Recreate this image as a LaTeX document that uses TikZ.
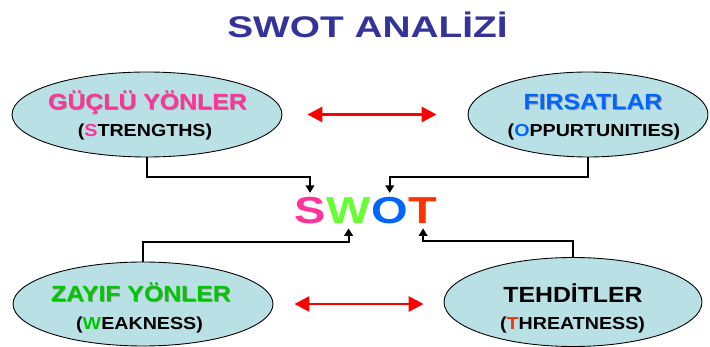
\documentclass[tikz,border=0pt]{standalone}
\usepackage{fontspec}
\setmainfont{Liberation Sans}
\newfontfamily\titlefont[FakeStretch=1.3]{Liberation Sans}
\newfontfamily\swotfont[FakeStretch=1.25]{Liberation Sans}
\newfontfamily\fieldfont[FakeStretch=1.13]{Liberation Sans}
\usetikzlibrary{arrows.meta, shapes.geometric}

\definecolor{titleblue}{RGB}{51,51,153}
\definecolor{fieldfill}{RGB}{185,224,228}
\definecolor{spink}{RGB}{255,51,153}
\definecolor{wgreen}{RGB}{102,255,51}
\definecolor{zgreen}{RGB}{0,200,0}
\definecolor{oblue}{RGB}{0,102,255}
\definecolor{tred}{RGB}{255,51,0}

% heading text with a light drop shadow
\newcommand{\shadowtext}[1]{\makebox[0pt][l]{\hspace{0.45pt}\raisebox{-0.45pt}{\textcolor{black!45}{#1}}}#1}

\tikzset{
	field/.style={ellipse, draw=black, line width=0.5pt, fill=fieldfill, inner sep=0pt},
	fieldhead/.style={anchor=base, inner sep=0pt, font=\fieldfont\bfseries\fontsize{12.5}{15}\selectfont},
	fieldsub/.style={anchor=base, inner sep=0pt, font=\fieldfont\bfseries\fontsize{9.9}{12}\selectfont},
	swotletter/.style={anchor=base west, inner sep=0pt, font=\swotfont\bfseries\fontsize{21.4}{26}\selectfont},
	linkarrow/.style={-{Triangle[length=1.5mm,width=1.7mm]}, line width=1.1pt},
	redpair/.style={{Triangle[length=3mm,width=3mm]}-{Triangle[length=3mm,width=3mm]}, line width=1.7pt, red},
}

\begin{document}
\begin{tikzpicture}[x=0.02cm, y=-0.02cm]
	\useasboundingbox (0,0) rectangle (710,347);

	%title
	\node[anchor=base, inner sep=0pt, text=titleblue, font=\titlefont\bfseries\fontsize{17}{20}\selectfont] (title) at (367.5,38) {SWOT ANALİZİ};

	%ellipses
	\node[field, minimum width=5.4cm, minimum height=1.7cm] (str) at (147,114.5) {};
	\node[field, minimum width=4.8cm, minimum height=1.7cm] (opp) at (588,114.5) {};
	\node[field, minimum width=5.2cm, minimum height=1.68cm] (weak) at (143,304) {};
	\node[field, minimum width=5.16cm, minimum height=1.78cm] (thr) at (573,302) {};

	%labels
	\node[fieldhead, text=spink] (strhead) at (147.5,110) {\shadowtext{GÜÇLÜ YÖNLER}};
	\node[fieldsub] (strsub) at (145,137) {(\textcolor{spink}{S}TRENGTHS)};
	%
	\node[fieldhead, text=oblue] (opphead) at (593,110) {\shadowtext{FIRSATLAR}};
	\node[fieldsub] (oppsub) at (594,137) {(\textcolor{oblue}{O}PPURTUNITIES)};
	%
	\node[fieldhead, text=zgreen] (weakhead) at (141,302) {\shadowtext{ZAYIF YÖNLER}};
	\node[fieldsub] (weaksub) at (139.5,330) {(\textcolor{zgreen}{W}EAKNESS)};
	%
	\node[fieldhead] (thrhead) at (573,303) {TEHDİTLER};
	\node[fieldsub] (thrsub) at (572.5,330) {(\textcolor{tred}{T}HREATNESS)};

	%swot
	\node[swotletter, text=spink] (s) at (294,224) {S};
	\node[swotletter, text=wgreen] (w) at (s.base east) {W};
	\node[swotletter, text=oblue] (o) at (w.base east) {O};
	\node[swotletter, text=tred] (t) at (o.base east) {T};

	%arrows
	\draw[linkarrow, shorten >=0.9mm] (str.south) -- ++(0,20) -| (s.north);
	\draw[linkarrow, shorten >=0.9mm] (opp.south) -- ++(0,20) -| (o.north);
	\draw[linkarrow, shorten >=0.8mm] (weak.north) -- ++(0,-20) -| (w.south);
	\draw[linkarrow, shorten >=0.8mm] (thr.north) -- ++(0,-16) -| (t.south);
	%
	\draw[redpair, shorten <=5mm, shorten >=6.2mm] (str.east) -- (opp.west);
	\draw[redpair, shorten <=4.2mm, shorten >=4mm] (weak.east) -- (weak.east -| thr.west);
\end{tikzpicture}
\end{document}
